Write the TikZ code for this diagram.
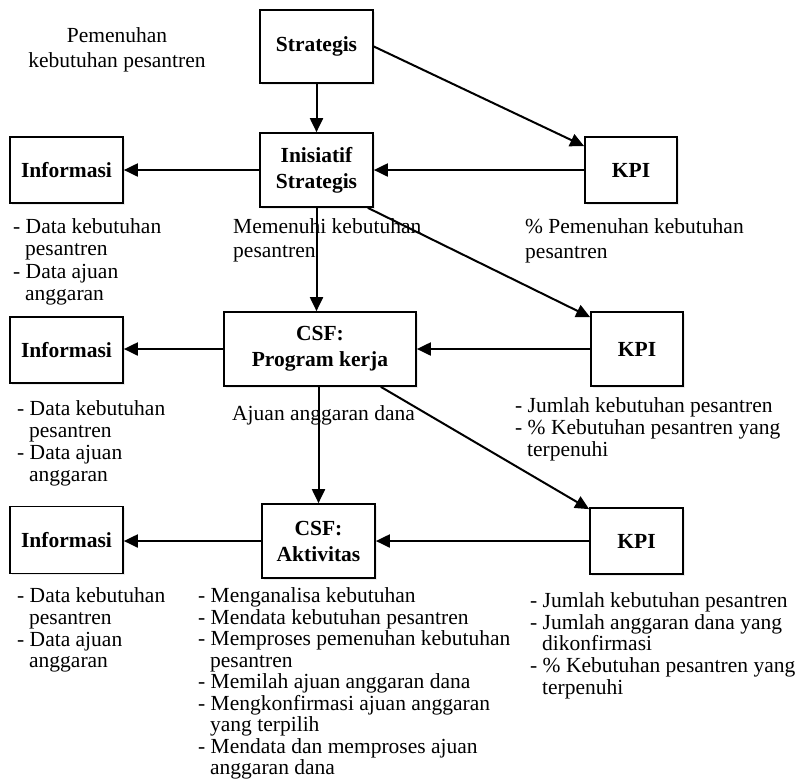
\documentclass[tikz,border=0pt]{standalone}
\usepackage{fontspec}
\setmainfont{Liberation Serif}
\usetikzlibrary{arrows.meta,shadows}
\newcommand{\ind}{\hspace*{12pt}}
\begin{document}
\begin{tikzpicture}[x=1pt,y=-1pt,
  box/.style={draw,line width=1.7pt,fill=white,inner sep=0pt,align=center,
    font=\fontsize{21.5}{26}\selectfont\bfseries,
    drop shadow={shadow xshift=1.5pt,shadow yshift=-1.5pt,opacity=.15}},
  flow/.style={line width=2pt,-{Triangle[length=14pt,width=13pt]}},
  note/.style={anchor=north west,inner sep=0pt,align=left},
  ]
\useasboundingbox (0,0) rectangle (799,780);

% boxes
\node[box,minimum width=113pt,minimum height=73pt] (strat) at (316.5,46.5) {Strategis};
\node[box,minimum width=113pt,minimum height=74pt] (inis)  at (316.5,170) {Inisiatif\\Strategis};
\node[box,minimum width=113pt,minimum height=66pt] (info1) at (66.5,170) {Informasi};
\node[box,minimum width=92pt,minimum height=66pt]  (kpi1)  at (631,170) {KPI};

\node[box,minimum width=192pt,minimum height=74pt] (csf1)  at (320,349) {CSF:\\Program kerja};
\node[box,minimum width=113pt,minimum height=66pt] (info2) at (66.5,350) {Informasi};
\node[box,minimum width=92pt,minimum height=74pt]  (kpi2)  at (637,349) {KPI};

\node[box,minimum width=113pt,minimum height=74pt] (csf2)  at (318.5,541) {CSF:\\Aktivitas};
\node[box,minimum width=113pt,minimum height=67pt] (info3) at (66.5,540) {Informasi};
\node[box,minimum width=93pt,minimum height=66pt]  (kpi3)  at (636.5,541) {KPI};

% connectors
\draw[flow] (strat.south) -- (inis.north);
\draw[flow] (strat.east) -- ([yshift=-10pt]kpi1.north west);
\draw[flow] (kpi1.west) -- (inis.east);
\draw[flow] (inis.west) -- (info1.east);
\draw[flow] (inis.south) -- (inis.south |- csf1.north);
\draw[flow] ([xshift=-6pt]inis.south east) -- ([yshift=-6pt]kpi2.north west);
\draw[flow] (kpi2.west) -- (csf1.east);
\draw[flow] (csf1.west) -- (csf1.west -| info2.east);
\draw[flow] (csf2.north |- csf1.south) -- (csf2.north);
\draw[flow] ([xshift=-36pt]csf1.south east) -- ([yshift=-2pt]kpi3.north west);
\draw[flow] (kpi3.west) -- (csf2.east);
\draw[flow] (csf2.west) -- (csf2.west -| info3.east);

% descriptions
\node[anchor=north,inner sep=0pt,align=center,font=\fontsize{21.5}{25}\selectfont] (t0) at (117,27.5)
  {Pemenuhan\\kebutuhan pesantren};
\node[note,font=\fontsize{21.5}{24}\selectfont] (t1) at (233,218.5)
  {Memenuhi kebutuhan\\pesantren};
\node[note,font=\fontsize{21.5}{25}\selectfont] (t2) at (525,218.5)
  {\% Pemenuhan kebutuhan\\pesantren};
\node[note,font=\fontsize{21.5}{22.3}\selectfont] (t3) at (13,218.5)
  {- Data kebutuhan\\\ind pesantren\\- Data ajuan\\\ind anggaran};

\node[note,font=\fontsize{21.5}{21.8}\selectfont] (t4) at (17,400.5)
  {- Data kebutuhan\\\ind pesantren\\- Data ajuan\\\ind anggaran};
\node[note,font=\fontsize{21.5}{22}\selectfont] (t5) at (232,405.5)
  {Ajuan anggaran dana};
\node[note,font=\fontsize{21.5}{21.7}\selectfont] (t6) at (515,397.5)
  {- Jumlah kebutuhan pesantren\\- \% Kebutuhan pesantren yang\\\ind terpenuhi};

\node[note,font=\fontsize{21.5}{21.7}\selectfont] (t7) at (17,587.5)
  {- Data kebutuhan\\\ind pesantren\\- Data ajuan\\\ind anggaran};
\node[note,font=\fontsize{21.5}{21.5}\selectfont] (t8) at (198,587.5)
  {- Menganalisa kebutuhan\\- Mendata kebutuhan pesantren\\- Memproses pemenuhan kebutuhan\\\ind pesantren\\- Memilah ajuan anggaran dana\\- Mengkonfirmasi ajuan anggaran\\\ind yang terpilih\\- Mendata dan memproses ajuan\\\ind anggaran dana};
\node[note,font=\fontsize{21.5}{21.6}\selectfont] (t9) at (530,592.5)
  {- Jumlah kebutuhan pesantren\\- Jumlah anggaran dana yang\\\ind dikonfirmasi\\- \% Kebutuhan pesantren yang\\\ind terpenuhi};
\end{tikzpicture}
\end{document}
